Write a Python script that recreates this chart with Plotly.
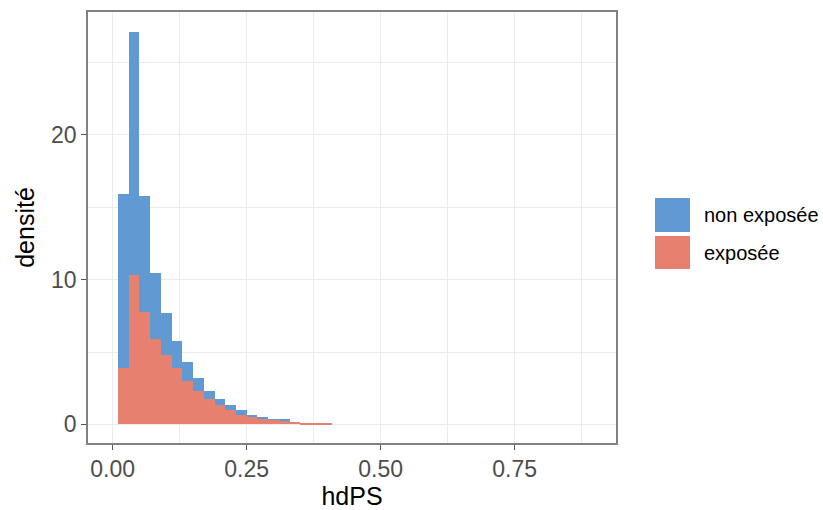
import plotly.graph_objects as go

# Histogram bins (binwidth 0.02, first bin 0.01-0.03)
bin_centers = [0.02, 0.04, 0.06, 0.08, 0.10, 0.12, 0.14, 0.16, 0.18, 0.20,
               0.22, 0.24, 0.26, 0.28, 0.30, 0.32, 0.34, 0.36, 0.38, 0.40]
bin_width = 0.02

non_exposee = [15.92, 27.14, 15.81, 10.44, 7.67, 5.78, 4.33, 3.23, 2.33, 1.77,
               1.31, 0.99, 0.62, 0.51, 0.35, 0.35, 0.18, 0.05, 0.03, 0.02]
exposee = [3.87, 10.35, 7.79, 5.90, 4.77, 3.92, 3.00, 2.33, 1.77, 1.31,
           0.97, 0.62, 0.48, 0.35, 0.30, 0.21, 0.18, 0.12, 0.12, 0.12]

series_names = ["non exposée", "exposée"]
colors = ["#6199D3", "#E8806F"]

x_ticks = [0, 0.25, 0.5, 0.75]
x_ticktext = ["0.00", "0.25", "0.50", "0.75"]
y_ticks = [0, 10, 20]

FONT = "Liberation Sans, Arial, sans-serif"

fig = go.Figure()
for name, vals, col in zip(series_names, [non_exposee, exposee], colors):
    fig.add_trace(go.Bar(
        x=bin_centers, y=vals, width=bin_width, name=name,
        marker=dict(color=col, line=dict(width=0)),
        showlegend=False,
    ))

grid = "#EBEBEB"
L, R, T, B = 88, 616, 12, 443
W, H = 823, 510
fig.update_layout(
    width=W, height=H,
    margin=dict(l=L, r=W - R, t=T, b=H - B),
    barmode="overlay", bargap=0,
    plot_bgcolor="white", paper_bgcolor="white",
    font=dict(family=FONT, color="#4D4D4D", size=20),
    xaxis=dict(
        range=[-0.046, 0.939], tickvals=x_ticks, ticktext=x_ticktext,
        showgrid=True, gridcolor=grid, gridwidth=1.3,
        minor=dict(tickvals=[0.125, 0.375, 0.625, 0.875], showgrid=True,
                   gridcolor=grid, gridwidth=0.7, ticks=""),
        ticks="outside", ticklen=5, tickcolor="#555555", tickwidth=1.3,
        showline=True, linecolor="#808080", linewidth=1.5, mirror=True,
        zeroline=False, automargin=False,
        title=dict(text="hdPS", font=dict(size=25, color="#000000"), standoff=4),
        tickfont=dict(size=23, color="#4D4D4D"),
    ),
    yaxis=dict(
        range=[-1.29, 28.5], tickvals=y_ticks,
        showgrid=True, gridcolor=grid, gridwidth=1.3,
        minor=dict(tickvals=[5, 15, 25], showgrid=True,
                   gridcolor=grid, gridwidth=0.7, ticks=""),
        ticks="outside", ticklen=5, tickcolor="#555555", tickwidth=1.3,
        showline=True, linecolor="#808080", linewidth=1.5, mirror=True,
        zeroline=False, automargin=False,
        title=dict(text="densité", font=dict(size=25, color="#000000"), standoff=9),
        tickfont=dict(size=23, color="#4D4D4D"),
    ),
)

# Legend drawn manually to match ggplot key size
pw, ph = R - L, B - T
key_rows = [(198, 232), (236, 269)]
for (y0, y1), name, col in zip(key_rows, series_names, colors):
    fig.add_shape(type="rect", xref="paper", yref="paper",
                  x0=(655 - L) / pw, x1=(690 - L) / pw,
                  y0=(B - y1) / ph, y1=(B - y0) / ph,
                  fillcolor=col, line=dict(width=0))
    fig.add_annotation(xref="paper", yref="paper",
                       x=(702 - L) / pw, y=(B - (y0 + y1) / 2) / ph,
                       text=name, showarrow=False, xanchor="left", yanchor="middle",
                       xshift=0, font=dict(size=20, color="#000000", family=FONT))

fig.write_html("out.html")
